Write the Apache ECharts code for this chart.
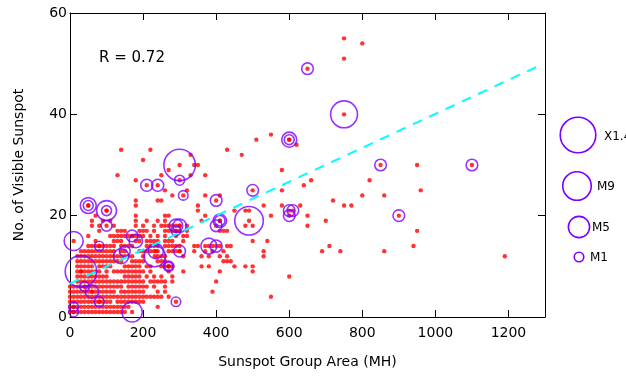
<!DOCTYPE html>
<html>
<head>
<meta charset="utf-8">
<script src="https://cdn.jsdelivr.net/npm/echarts@6/dist/echarts.min.js"></script>
<style>
html,body{margin:0;padding:0;background:#fff;}
#chart{width:626px;height:378px;}
</style>
</head>
<body>
<div id="chart"></div>
<script>
// ---- Data ----
// Rows of red dots for low sunspot counts: one y value per row, x values listed for each row
const denseY = [1,2,3,4,5,6,7,8,9,10,11,12,13,14,15,16,17,18,19];
const denseX = [
  [0,10,20,30,40,50,60,70,80,90,100,110,120,130,140,150],
  [0,10,20,30,40,50,60,70,80,90,100,110,120,130,140,150,160,240],
  [0,10,20,30,40,50,60,70,80,90,100,110,130,140,150,160,170,180,190,200],
  [0,10,20,30,40,50,60,70,80,90,100,110,120,130,140,150,160,170,180,190,200,210,220,230,240,250,270,550],
  [0,10,20,30,40,50,60,70,80,90,100,110,120,140,150,160,170,180,190,200,240,260,390],
  [0,10,20,30,40,50,60,70,80,90,100,110,120,130,140,160,170,180,190,200,210,230,260],
  [20,30,40,50,60,70,80,90,100,110,120,130,140,150,160,170,180,190,200,220,230,240,250,260,280,400],
  [20,30,40,50,60,70,80,90,100,150,160,170,180,190,210,230,250,280,600],
  [20,30,40,50,60,70,80,100,120,130,140,150,160,170,180,190,200,220,270,310,410,500],
  [20,30,40,50,60,80,90,100,110,150,160,170,180,190,210,220,250,260,270,280,360,380,450,480,500],
  [20,30,40,50,60,70,80,90,100,110,120,130,140,170,180,190,200,240,250,260,420,430,440],
  [20,30,40,50,60,70,80,90,100,110,120,130,150,160,170,200,240,250,260,310,360,380,410,430,530,1190],
  [30,40,50,60,70,80,90,100,110,120,140,190,200,210,220,230,240,270,280,290,300,340,370,390,420,530,690,740,860],
  [50,60,70,80,90,100,110,120,140,150,160,170,210,220,230,240,260,270,280,290,300,340,350,370,390,410,430,440,710,940],
  [70,120,130,140,190,210,220,230,240,260,270,280,310,500,540],
  [50,110,120,130,140,150,160,170,180,190,200,220,240,260,290,310,320],
  [80,130,140,150,190,200,210,230,260,270,280,290,300,320,410,420,430,950],
  [60,80,120,180,200,230,250,260,270,280,300,320,480,500,650],
  [60,90,110,180,210,240,260,360,700]
];
// Scattered red dots at higher sunspot counts
const sparseX = [750,800,750,550,510,620,140,220,430,330,470,200,340,350,950,270,580,130,250,330,370,180,660,820,640,260,320,580,960,280,370,410,800,860,180,240,250,720,180,350,530,580,630,750,770,350,450,480,490,70,180,260,270,370,550,650];
const sparseY = [55,54,51,36,35,34,33,33,33,32,32,31,30,30,30,29,29,28,28,28,28,27,27,27,26,25,25,25,25,24,24,24,24,24,23,23,23,23,22,22,22,22,22,22,22,21,21,21,21,20,20,20,20,20,20,20];
// Flares: position and GOES class in M units (X1.4 = 14)
const flareX = [650,750,600,600,300,300,210,240,310,50,50,100,100,100,10,30,80,170,180,140,150,232,235,290,300,290,300,270,270,290,170,10,10,40,60,80,400,410,410,400,380,400,490,500,600,610,600,850,1100,900];
const flareY = [49,40,35,35,30,27,26,26,24,22,22,21,21,18,15,9,14,16,15,12,13,12,13,18,18,17,13,10,10,3,1,2,1,6,5,3,23,19,19,18,14,14,19,25,21,21,20,30,30,20];
const flareM = [1.5,8,2.5,1.1,11,1.1,1.6,1.6,1,2.8,1.1,4.4,1.1,1.3,4,11,1,1.5,2,2.5,1.3,5,2.5,2,2,1,1.5,1.2,0.8,1,4.5,1,1,1.1,1.9,1.1,1.5,2,1.2,1.5,2.8,1.6,9,1.5,1.5,1.5,1.5,1.5,1.5,1.5];
// Regression line end points
const fitX = [0, 1290];
const fitY = [6.6, 49.8];
// Legend classes
const legendLabels = ['X1.4','M9','M5','M1'];
const legendM = [14, 9, 5, 1];
const rText = 'R = 0.72';
const xTitle = 'Sunspot Group Area (MH)';
const yTitle = 'No. of Visible Sunspot';

// ---- Build ----
const sizeOf = m => 9.5 * Math.sqrt(m);
const dots = [];
denseY.forEach((y, i) => denseX[i].forEach(x => dots.push([x, y])));
sparseX.forEach((x, i) => dots.push([x, sparseY[i]]));
flareX.forEach((x, i) => dots.push([x, flareY[i]]));
const flares = flareX.map((x, i) => [x, flareY[i], flareM[i]]);
const fit = fitX.map((x, i) => [x, fitY[i]]);

const FONT = 'DejaVu Sans';
const PURPLE = '#8000ff';
const chart = echarts.init(document.getElementById('chart'), null, {renderer: 'canvas'});

const baseAxis = {
  type: 'value',
  axisLine: {show: true, onZero: false, lineStyle: {color: '#000', width: 1}},
  axisTick: {show: true, inside: true, length: 7, lineStyle: {color: '#000', width: 1}},
  splitLine: {show: false}
};

const legendGraphics = [];
const legendPos = [[578,135,604,137],[577,186,597,187],[579,227,592,228],[579,257,590,258]];
legendM.forEach((m, i) => {
  const p = legendPos[i];
  legendGraphics.push({type: 'circle', shape: {cx: p[0], cy: p[1], r: sizeOf(m) / 2},
    style: {fill: 'none', stroke: PURPLE, lineWidth: 1.6}, silent: true});
  legendGraphics.push({type: 'text', x: p[2], y: p[3],
    style: {text: legendLabels[i], fill: '#000', font: '12px "DejaVu Sans"', verticalAlign: 'middle', align: 'left'}, silent: true});
});
legendGraphics.push({type: 'text', x: 99, y: 58,
  style: {text: rText, fill: '#000', font: '15px "DejaVu Sans"', verticalAlign: 'middle', align: 'left'}, silent: true});

chart.setOption({
  animation: false,
  backgroundColor: '#fff',
  grid: {left: 70, right: 81, top: 13, bottom: 61},
  xAxis: [
    Object.assign({}, baseAxis, {
      min: 0, max: 1300, interval: 200, position: 'bottom',
      axisLabel: {color: '#000', fontSize: 14, fontFamily: FONT, margin: 9,
        formatter: v => (v % 200 === 0 ? String(v) : '')},
      name: xTitle, nameLocation: 'middle', nameGap: 38,
      nameTextStyle: {color: '#000', fontSize: 14, fontFamily: FONT}
    }),
    Object.assign({}, baseAxis, {
      min: 0, max: 1300, interval: 200, position: 'top', axisLabel: {show: false}
    })
  ],
  yAxis: [
    Object.assign({}, baseAxis, {
      min: 0, max: 60, interval: 20, position: 'left',
      axisLabel: {color: '#000', fontSize: 14, fontFamily: FONT, margin: 3},
      name: yTitle, nameLocation: 'middle', nameGap: 44,
      nameTextStyle: {color: '#000', fontSize: 14, fontFamily: FONT}
    }),
    Object.assign({}, baseAxis, {
      min: 0, max: 60, interval: 20, position: 'right', axisLabel: {show: false}
    })
  ],
  graphic: legendGraphics,
  series: [
    {type: 'scatter', data: dots, symbol: 'circle', symbolSize: 4.4, z: 2,
      itemStyle: {color: '#ff0000'}, silent: true},
    {type: 'scatter', data: flares, symbol: 'circle', z: 3,
      symbolSize: v => sizeOf(v[2]),
      itemStyle: {color: 'rgba(0,0,0,0)', borderColor: PURPLE, borderWidth: 1.6}, silent: true},
    {type: 'line', data: fit, symbol: 'none', z: 4, silent: true,
      lineStyle: {color: '#00ffff', width: 2, type: [10, 8]}}
  ]
});
</script>
</body>
</html>
